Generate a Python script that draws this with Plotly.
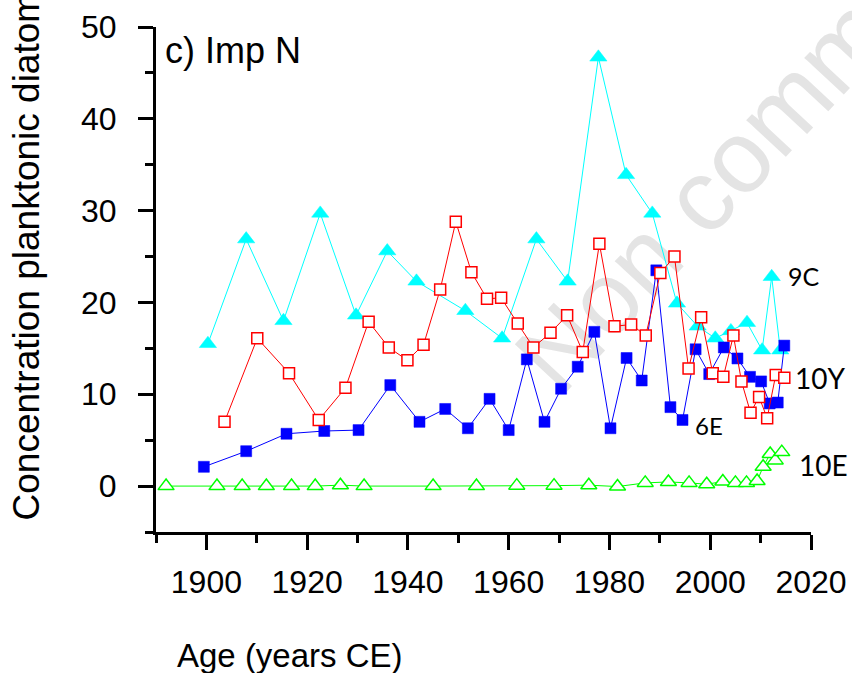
import plotly.graph_objects as go

# ---- data ----
years_6E = [1899.5, 1907.9, 1915.9, 1923.4, 1930.2, 1936.5, 1942.3, 1947.4, 1951.9, 1956.2,
            1960.0, 1963.6, 1967.1, 1970.4, 1973.7, 1977.0, 1980.2, 1983.4, 1986.4, 1989.3,
            1992.1, 1994.5, 1997.1, 1999.8, 2002.7, 2005.4, 2007.9, 2010.1, 2011.8, 2013.4, 2014.7]
vals_6E = [2.1, 3.8, 5.7, 6.0, 6.1, 11.0, 7.0, 8.4, 6.3, 9.5,
           6.1, 13.8, 7.0, 10.6, 13.0, 16.8, 6.3, 13.95, 11.5, 23.5,
           8.6, 7.2, 14.9, 12.2, 15.1, 13.9, 11.9, 11.4, 9.0, 9.1, 15.3]

years_10Y = [1903.6, 1910.1, 1916.4, 1922.3, 1927.6, 1932.2, 1936.2, 1939.9, 1943.1, 1946.4,
             1949.5, 1952.6, 1955.7, 1958.5, 1961.8, 1964.9, 1968.3, 1971.6, 1974.7, 1978.0,
             1981.0, 1984.3, 1987.2, 1990.1, 1992.9, 1995.7, 1998.2, 2000.5, 2002.6, 2004.6,
             2006.2, 2008.0, 2009.7, 2011.3, 2013.0, 2014.7]
vals_10Y = [7.0, 16.1, 12.3, 7.2, 10.7, 17.9, 15.1, 13.7, 15.4, 21.4,
            28.8, 23.3, 20.4, 20.5, 17.7, 15.1, 16.7, 18.6, 14.6, 26.4,
            17.4, 17.6, 16.4, 23.2, 25.0, 12.8, 18.4, 12.3, 11.9, 16.4,
            11.4, 8.0, 9.7, 7.4, 12.1, 11.8]

years_9C = [1900.3, 1907.9, 1915.3, 1922.6, 1929.7, 1935.9, 1941.7, 1951.4, 1958.7, 1965.5,
            1971.7, 1977.8, 1983.3, 1988.5, 1993.4, 1997.5, 2001.0, 2004.1, 2007.3, 2010.3,
            2012.2, 2013.9]
vals_9C = [15.5, 26.9, 18.0, 29.7, 18.6, 25.6, 22.3, 19.1, 16.1, 26.9,
           22.3, 46.7, 33.9, 29.7, 19.9, 17.4, 16.1, 16.9, 17.8, 14.8,
           22.8, 14.8]

years_10E = [1892.0, 1902.1, 1907.1, 1911.9, 1916.9, 1921.6, 1926.6, 1931.3, 1945.0, 1953.6,
             1961.6, 1969.0, 1975.9, 1981.6, 1987.1, 1991.7, 1995.8, 1999.3, 2002.5, 2005.0,
             2007.2, 2009.3, 2010.5, 2011.9, 2012.9, 2014.2]
vals_10E = [0.0, 0.0, 0.0, 0.0, 0.0, 0.0, 0.1, 0.0, 0.0, 0.0,
            0.05, 0.05, 0.1, -0.05, 0.35, 0.45, 0.35, 0.2, 0.5, 0.35,
            0.35, 0.55, 2.1, 3.5, 2.8, 3.7]

series_labels = ["9C", "10Y", "6E", "10E"]
label_x = [2015.0, 2016.5, 1996.5, 2017.3]
label_y = [22.9, 11.8, 6.6, 2.3]
label_size = [25, 28, 24, 28]

x_tickvals = [1900, 1920, 1940, 1960, 1980, 2000, 2020]
y_tickvals = [0, 10, 20, 30, 40, 50]

FONT = "Arial, Liberation Sans, sans-serif"
LABEL_FONT = "Lato, Liberation Sans, sans-serif"

fig = go.Figure()

fig.add_trace(go.Scatter(
    x=years_10E, y=vals_10E, mode="lines+markers", name="10E",
    line=dict(color="#00ff00", width=1),
    marker=dict(symbol="triangle-up", size=14, color="white",
                line=dict(color="#00ff00", width=1.5)),
    cliponaxis=False))

fig.add_trace(go.Scatter(
    x=years_9C, y=vals_9C, mode="lines+markers", name="9C",
    line=dict(color="#00ffff", width=1),
    marker=dict(symbol="triangle-up", size=15, color="#00ffff",
                line=dict(color="#00ffff", width=0.5)),
    cliponaxis=False))

fig.add_trace(go.Scatter(
    x=years_6E, y=vals_6E, mode="lines+markers", name="6E",
    line=dict(color="#0000ff", width=1),
    marker=dict(symbol="square", size=11, color="#0000ff",
                line=dict(color="#0000ff", width=0.5)),
    cliponaxis=False))

fig.add_trace(go.Scatter(
    x=years_10Y, y=vals_10Y, mode="lines+markers", name="10Y",
    line=dict(color="#ff0000", width=1),
    marker=dict(symbol="square", size=11, color="white",
                line=dict(color="#ff0000", width=1.5)),
    cliponaxis=False))

axis_common = dict(
    showline=True, linecolor="black", linewidth=3,
    ticks="outside", tickcolor="black", tickwidth=3, ticklen=15,
    showgrid=False, zeroline=False, mirror=False, automargin=False,
    tickfont=dict(family=FONT, size=32, color="black"),
)

fig.update_xaxes(
    range=[1890, 2020], tickvals=x_tickvals,
    minor=dict(dtick=10, tick0=1890, ticks="outside", ticklen=8, tickwidth=3, tickcolor="black"),
    ticklabelstandoff=5,
    **axis_common)
fig.update_yaxes(
    range=[-5, 50], tickvals=y_tickvals,
    minor=dict(dtick=5, tick0=-5, ticks="outside", ticklen=8, tickwidth=3, tickcolor="black"),
    ticklabelstandoff=15,
    **axis_common)

annotations = [
    dict(text="c) Imp N", xref="paper", yref="paper", x=0.0107, y=0.954,
         xanchor="left", yanchor="middle", showarrow=False,
         font=dict(family=FONT, size=36, color="black")),
    dict(text="Age (years CE)", xref="paper", yref="paper", x=0.029, y=-0.244,
         xanchor="left", yanchor="middle", showarrow=False,
         font=dict(family=FONT, size=33, color="black")),
    dict(text="Concentration planktonic diatoms", xref="paper", yref="paper",
         x=-0.197, y=0.0198, xanchor="center", yanchor="bottom", textangle=-90,
         showarrow=False, font=dict(family=FONT, size=37, color="black")),
]
for t, lx, ly, ls in zip(series_labels, label_x, label_y, label_size):
    annotations.append(dict(text=t, x=lx, y=ly, xref="x", yref="y",
                            xanchor="left", yanchor="middle", showarrow=False,
                            font=dict(family=LABEL_FONT, size=ls, color="black")))

fig.update_layout(
    width=852, height=673,
    margin=dict(l=156, r=41, t=27, b=141, autoexpand=False),
    paper_bgcolor="white", plot_bgcolor="white",
    showlegend=False,
    annotations=annotations,
    shapes=[dict(type="line", xref="paper", yref="paper",
                 x0=0.899, y0=0.787, x1=1.003, y1=0.931,
                 line=dict(color="rgba(0,0,0,0)", width=0), layer="below",
                 label=dict(text="Non commercial", textangle=-47,
                            textposition="middle", xanchor="center", yanchor="middle",
                            font=dict(family=FONT, size=102, color="#e4e4e4")))],
)

fig.write_html("out.html", config={"displayModeBar": False},
               post_script="document.body.style.margin='0';document.body.style.padding='0';")
